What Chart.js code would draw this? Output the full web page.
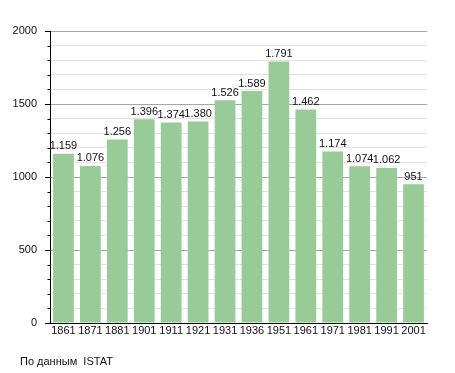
<!DOCTYPE html>
<html>
<head>
    <title>Population chart</title>
    <script src="https://cdn.jsdelivr.net/npm/chart.js"></script>
    <style>
        body { margin: 0; background: #fff; }
    </style>
</head>
<body>
    <canvas id="popChart" width="455" height="373"></canvas>

    <script>
    const years = ['1861', '1871', '1881', '1901', '1911', '1921', '1931', '1936', '1951', '1961', '1971', '1981', '1991', '2001'];
    const population = [1159, 1076, 1256, 1396, 1374, 1380, 1526, 1589, 1791, 1462, 1174, 1074, 1062, 951];
    const sourceNote = 'По данным  ISTAT';

    const FONT = '"Liberation Sans", Arial, sans-serif';

    // dotted thousands, like 1.159
    function fmt(v) {
        return v >= 1000 ? Math.floor(v / 1000) + '.' + String(v % 1000).padStart(3, '0') : String(v);
    }

    const extras = {
        id: 'extras',
        afterDatasetsDraw(chart) {
            const ctx = chart.ctx;
            const meta = chart.getDatasetMeta(0);
            ctx.save();
            ctx.font = '11px ' + FONT;
            ctx.fillStyle = '#111';
            ctx.textAlign = 'center';
            ctx.textBaseline = 'bottom';
            meta.data.forEach((bar, i) => {
                ctx.fillText(fmt(population[i]), bar.x, bar.y - 2);
            });

            // y tick marks: long on majors, short on minors
            const y = chart.scales.y;
            const x0 = chart.chartArea.left;
            ctx.strokeStyle = '#000';
            ctx.lineWidth = 1;
            y.ticks.forEach(t => {
                const py = Math.round(y.getPixelForValue(t.value)) + 0.5;
                const len = t.value % 500 === 0 ? 5 : 2.5;
                ctx.beginPath();
                ctx.moveTo(x0 - len, py);
                ctx.lineTo(x0, py);
                ctx.stroke();
            });

            ctx.textAlign = 'left';
            ctx.textBaseline = 'middle';
            ctx.fillStyle = '#111';
            ctx.fillText(sourceNote, 20, 362);
            ctx.restore();
        }
    };

    const ctx = document.getElementById('popChart').getContext('2d');
    new Chart(ctx, {
        type: 'bar',
        data: {
            labels: years,
            datasets: [{
                data: population,
                backgroundColor: '#98cb97',
                borderWidth: 0,
                barPercentage: 0.77,
                categoryPercentage: 1
            }]
        },
        options: {
            responsive: false,
            animation: false,
            layout: { padding: { top: 31, right: 28, left: 0, bottom: 0 } },
            plugins: {
                legend: { display: false },
                tooltip: { enabled: false }
            },
            scales: {
                x: {
                    grid: { display: false, drawTicks: false },
                    border: { color: '#000', width: 1 },
                    ticks: { color: '#111', font: { family: FONT, size: 11 }, padding: 1, maxRotation: 0, autoSkip: false },
                    afterFit(s) { s.height = 50; }
                },
                y: {
                    min: 0,
                    max: 2000,
                    grid: {
                        drawTicks: false,
                        color: c => c.tick && c.tick.value % 500 === 0 ? '#a6a6a6' : '#e2e2e2'
                    },
                    border: { color: '#000', width: 1 },
                    ticks: {
                        stepSize: 100,
                        autoSkip: false,
                        padding: 13,
                        color: '#111',
                        font: { family: FONT, size: 11 },
                        callback: v => v % 500 === 0 ? String(v) : ''
                    },
                    afterFit(s) { s.width = 50; }
                }
            }
        },
        plugins: [extras]
    });
    </script>
</body>
</html>
